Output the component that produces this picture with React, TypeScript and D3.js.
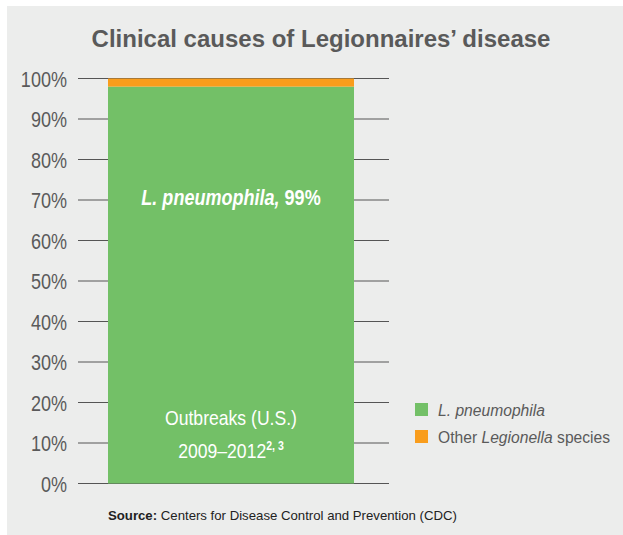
import React from "react";
import * as d3 from "d3";

// chart data
const categories = ["Outbreaks (U.S.) 2009–2012"];
const seriesNames = ["L. pneumophila", "Other Legionella species"];
const pneumophilaValues = [98];
const otherValues = [2];
const yTicks = [0, 10, 20, 30, 40, 50, 60, 70, 80, 90, 100];

const colors = ["#73c067", "#f99d1c"];
const sans = "'Liberation Sans', Arial, sans-serif";
const textGray = "#5a5a5a";

// no narrow font installed, so squeeze the regular one horizontally
function Narrow({ x, y, sx, anchor, children, ...rest }: any) {
  return (
    <g transform={`translate(${x},${y}) scale(${sx},1)`}>
      <text x={0} y={0} textAnchor={anchor} fontFamily={sans} {...rest}>
        {children}
      </text>
    </g>
  );
}

export default function App() {
  const width = 623;
  const height = 535;

  const yScale = d3.scaleLinear().domain([0, 100]).range([483.5, 78.5]);
  const xScale = d3.scaleBand().domain(categories).range([108, 354]).padding(0);

  const table = categories.map((c, i) => ({
    category: c,
    pneumophila: pneumophilaValues[i],
    other: otherValues[i],
  }));
  const stacked = d3.stack<any>().keys(["pneumophila", "other"])(table);

  const bx = xScale(categories[0]) as number;
  const bw = xScale.bandwidth();
  const cx = bx + bw / 2;

  return (
    <svg
      width={width}
      height={height}
      style={{ position: "absolute", left: 0, top: 0 }}
    >
      <rect x={7} y={6} width={616} height={529} fill="#ecedec" />

      <text
        x={321}
        y={47}
        textAnchor="middle"
        fontFamily={sans}
        fontWeight="bold"
        fontSize={24}
        fill={textGray}
      >
        Clinical causes of Legionnaires’ disease
      </text>

      {/* gridlines and tick labels */}
      {yTicks.map((t) => (
        <g key={t}>
          <line
            x1={78}
            x2={389}
            y1={yScale(t)}
            y2={yScale(t)}
            stroke="#555"
            strokeWidth={1}
          />
          <Narrow
            x={67}
            y={yScale(t) + 8}
            sx={0.82}
            anchor="end"
            fontSize={22}
            fill={textGray}
          >
            {t}%
          </Narrow>
        </g>
      ))}

      {/* stacked bar */}
      {stacked.map((s, si) =>
        s.map((d, i) => (
          <rect
            key={si + "-" + i}
            x={xScale(d.data.category)}
            width={bw}
            y={yScale(d[1])}
            height={yScale(d[0]) - yScale(d[1])}
            fill={colors[si]}
          />
        ))
      )}

      <Narrow
        x={cx}
        y={205}
        sx={0.82}
        anchor="middle"
        fontWeight="bold"
        fontSize={22}
        fill="#fff"
      >
        <tspan fontStyle="italic">L. pneumophila,</tspan> 99%
      </Narrow>

      <Narrow x={cx} y={425} sx={0.88} anchor="middle" fontSize={20} fill="#fff">
        Outbreaks (U.S.)
      </Narrow>
      <Narrow x={cx} y={458} sx={0.88} anchor="middle" fontSize={20} fill="#fff">
        2009–2012
        <tspan fontSize={12} fontWeight="bold" dy={-8}>
          2, 3
        </tspan>
      </Narrow>

      {/* legend */}
      {seriesNames.map((name, i) => (
        <g key={name} transform={`translate(415, ${403 + i * 27})`}>
          <rect width={13} height={13} fill={colors[i]} />
          <Narrow x={23} y={13} sx={0.92} fontSize={17} fill={textGray}>
            {i === 0 ? (
              <tspan fontStyle="italic">{name}</tspan>
            ) : (
              <>
                Other <tspan fontStyle="italic">Legionella</tspan> species
              </>
            )}
          </Narrow>
        </g>
      ))}

      <text x={108} y={520} fontFamily={sans} fontSize={13.2} fill="#222">
        <tspan fontWeight="bold">Source:</tspan> Centers for Disease Control and
        Prevention (CDC)
      </text>
    </svg>
  );
}
